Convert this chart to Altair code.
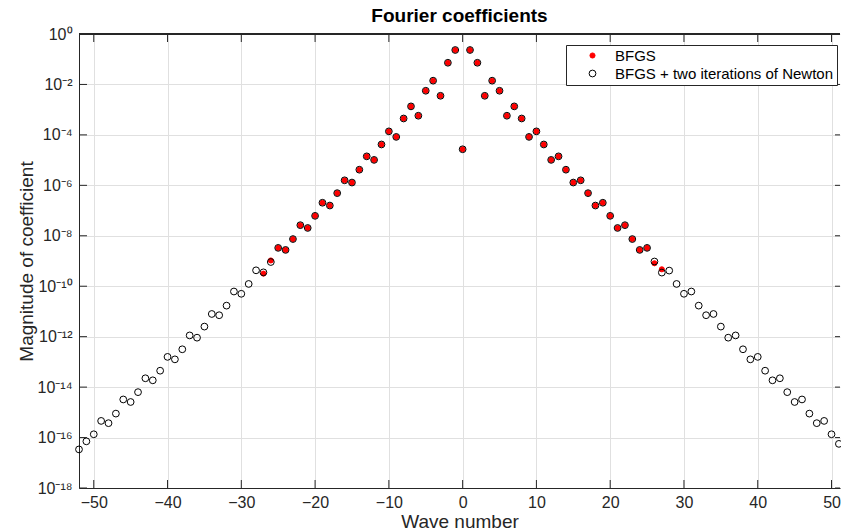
import altair as alt
import pandas as pd

# ---------------- data ----------------
wave_newton = list(range(-52, 52))
mag_newton = [
    3.39e-17, 7.08e-17, 1.35e-16, 4.57e-16, 3.72e-16, 8.91e-16, 3.24e-15, 2.57e-15,
    6.31e-15, 2.24e-14, 1.86e-14, 4.47e-14, 1.58e-13, 1.26e-13, 3.16e-13, 1.12e-12,
    9.12e-13, 2.51e-12, 7.94e-12, 7.08e-12, 1.70e-11, 6.17e-11, 5.01e-11, 1.23e-10,
    4.27e-10, 3.55e-10, 9.12e-10, 3.31e-9, 2.75e-9, 7.41e-9, 2.63e-8, 2.04e-8,
    6.17e-8, 2.04e-7, 1.58e-7, 4.90e-7, 1.58e-6, 1.29e-6, 4.17e-6, 1.41e-5,
    1.02e-5, 4.17e-5, 1.38e-4, 8.32e-5, 4.47e-4, 1.35e-3, 5.75e-4, 5.62e-3,
    1.41e-2, 3.55e-3, 7.24e-2, 2.32e-1,
    2.69e-5,
    2.32e-1, 7.24e-2, 3.55e-3, 1.41e-2, 5.62e-3, 5.75e-4, 1.35e-3, 4.47e-4,
    8.32e-5, 1.38e-4, 4.17e-5, 1.02e-5, 1.41e-5, 4.17e-6, 1.29e-6, 1.58e-6,
    4.90e-7, 1.58e-7, 2.04e-7, 6.17e-8, 2.04e-8, 2.63e-8, 7.41e-9, 2.75e-9,
    3.31e-9, 9.55e-10, 3.47e-10, 4.17e-10, 1.23e-10, 5.01e-11, 6.17e-11, 1.70e-11,
    7.08e-12, 7.94e-12, 2.51e-12, 9.12e-13, 1.12e-12, 3.16e-13, 1.26e-13, 1.58e-13,
    4.47e-14, 1.86e-14, 2.24e-14, 6.31e-15, 2.57e-15, 3.24e-15, 8.91e-16, 3.72e-16,
    4.57e-16, 1.35e-16, 5.62e-17,
]

wave_bfgs = list(range(-27, 28))
mag_bfgs = [
    3.16e-10, 1.05e-9, 3.31e-9, 2.75e-9, 7.41e-9, 2.63e-8, 2.04e-8, 6.17e-8,
    2.04e-7, 1.58e-7, 4.90e-7, 1.58e-6, 1.29e-6, 4.17e-6, 1.41e-5, 1.02e-5,
    4.17e-5, 1.38e-4, 8.32e-5, 4.47e-4, 1.35e-3, 5.75e-4, 5.62e-3, 1.41e-2,
    3.55e-3, 7.24e-2, 2.32e-1,
    2.69e-5,
    2.32e-1, 7.24e-2, 3.55e-3, 1.41e-2, 5.62e-3, 5.75e-4, 1.35e-3, 4.47e-4,
    8.32e-5, 1.38e-4, 4.17e-5, 1.02e-5, 1.41e-5, 4.17e-6, 1.29e-6, 1.58e-6,
    4.90e-7, 1.58e-7, 2.04e-7, 6.17e-8, 2.04e-8, 2.63e-8, 7.41e-9, 2.75e-9,
    3.31e-9, 8.13e-10, 4.68e-10,
]

series_names = ["BFGS", "BFGS + two iterations of Newton"]
x_ticks = [-50, -40, -30, -20, -10, 0, 10, 20, 30, 40, 50]
y_ticks = [1e0, 1e-2, 1e-4, 1e-6, 1e-8, 1e-10, 1e-12, 1e-14, 1e-16, 1e-18]

# ---------------- layout ----------------
W, H = 761, 454
FONT = "Liberation Sans"
DARK = "#262626"

df = pd.concat([
    pd.DataFrame({"wave": wave_bfgs, "mag": mag_bfgs, "method": series_names[0]}),
    pd.DataFrame({"wave": wave_newton, "mag": mag_newton, "method": series_names[1]}),
], ignore_index=True)

xscale = alt.Scale(domain=[-52, 51.15], nice=False, zero=False)
yscale = alt.Scale(type="log", domain=[1e-18, 1], nice=False)

sup = "['⁰','¹','²','³','⁴','⁵','⁶','⁷','⁸','⁹','¹⁰','¹¹','¹²','¹³','¹⁴','¹⁵','¹⁶','¹⁷','¹⁸']"
ylabel_expr = ("'10' + (datum.value < 0.5 ? '⁻' : '') + " + sup +
               "[abs(round(log(datum.value) / LN10))]")

xaxis = alt.Axis(values=x_ticks, title="Wave number", labelPadding=6,
                 titleY=39, titleBaseline="alphabetic", grid=True)
yaxis = alt.Axis(values=y_ticks, title="Magnitude of coefficient",
                 labelExpr=ylabel_expr, labelPadding=7,
                 titleX=-47, titleY=H / 2, titleAngle=270,
                 titleBaseline="alphabetic", titleAlign="center", grid=True)

legend = alt.Legend(
    title=None, orient="none", legendX=487, legendY=11,
    fillColor="white", strokeColor=DARK, padding=3, symbolOffset=16,
    labelOffset=15, labelFont=FONT, labelFontSize=15, labelColor="black",
    labelLimit=400, rowPadding=2, symbolStrokeWidth=1, cornerRadius=0,
)

points = alt.Chart(df).mark_point(filled=True, opacity=1, strokeWidth=1).encode(
    x=alt.X("wave:Q", scale=xscale, axis=xaxis),
    y=alt.Y("mag:Q", scale=yscale, axis=yaxis),
    fill=alt.Fill("method:N", scale=alt.Scale(domain=series_names, range=["#ff0000", "transparent"]), legend=legend),
    stroke=alt.Stroke("method:N", scale=alt.Scale(domain=series_names, range=["#ff0000", "#000000"]), legend=legend),
    size=alt.Size("method:N", scale=alt.Scale(domain=series_names, range=[26, 46]), legend=legend),
)

xt_df = pd.DataFrame({"xt": x_ticks})
yt_df = pd.DataFrame({"yt": y_ticks})

xt_bottom = alt.Chart(xt_df).mark_rule(color=DARK, strokeWidth=1).encode(
    x=alt.X("xt:Q", scale=xscale, axis=xaxis), y=alt.value(H), y2=alt.value(H - 8))
xt_top = alt.Chart(xt_df).mark_rule(color=DARK, strokeWidth=1).encode(
    x=alt.X("xt:Q", scale=xscale, axis=xaxis), y=alt.value(0), y2=alt.value(8))
yt_left = alt.Chart(yt_df).mark_rule(color=DARK, strokeWidth=1).encode(
    y=alt.Y("yt:Q", scale=yscale, axis=yaxis), x=alt.value(0), x2=alt.value(8))
yt_right = alt.Chart(yt_df).mark_rule(color=DARK, strokeWidth=1).encode(
    y=alt.Y("yt:Q", scale=yscale, axis=yaxis), x=alt.value(W - 5), x2=alt.value(W))
top_line = alt.Chart(xt_df).mark_rule(color=DARK, strokeWidth=1).encode(
    x=alt.value(0), x2=alt.value(W), y=alt.value(0))

chart = alt.layer(points, xt_bottom, xt_top, yt_left, yt_right, top_line).properties(
    width=W, height=H,
    padding={"left": 79, "top": 34, "right": 1, "bottom": 42},
    autosize=alt.AutoSizeParams(type="none"),
    title=alt.Title("Fourier coefficients", font=FONT, fontSize=19, fontWeight="bold",
                    color="black", anchor="middle", offset=7, baseline="alphabetic", dy=22),
).configure_view(stroke=None).configure_axis(
    domainColor=DARK, domainWidth=1, ticks=False,
    labelFont=FONT, labelFontSize=16, labelColor=DARK,
    titleFont=FONT, titleFontSize=19, titleFontWeight="normal", titleColor=DARK,
    gridColor="#e0e0e0", gridWidth=1,
)

chart.save("out.html", embed_options={"renderer": "svg", "actions": False})
